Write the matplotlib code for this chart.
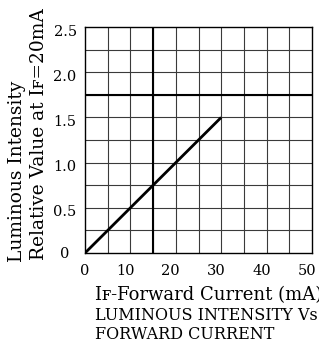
import numpy as np
import matplotlib
matplotlib.use("Agg")
import matplotlib.pyplot as plt
from matplotlib.transforms import ScaledTranslation

# data
forward_current = [0, 30]          # mA
relative_intensity = [0, 1.5]      # relative to IF=20mA

x_ticks = [0, 10, 20, 30, 40, 50]
y_ticks = [0, 0.5, 1.0, 1.5, 2.0, 2.5]
y_ticklabels = ["0", "0.5", "1.0", "1.5", "2.0", "2.5"]

fam = ["DejaVu Serif", "DejaVu Sans"]

fig = plt.figure(figsize=(3.19, 3.46), dpi=100)
ax = fig.add_axes([85/319, 93/346, 227/319, 226/346])

ax.set_xlim(0, 50)
ax.set_ylim(0, 2.5)

# grid every 5 mA / 0.25
for gx in np.arange(5, 50, 5):
    ax.axvline(gx, color="#3a3a3a", lw=0.8, zorder=1)
for gy in np.arange(0.25, 2.5, 0.25):
    ax.axhline(gy, color="#3a3a3a", lw=0.8, zorder=1)
# heavier reference lines
ax.axvline(15, color="black", lw=1.5, zorder=1)
ax.axhline(1.75, color="black", lw=1.5, zorder=1)

ax.plot(forward_current, relative_intensity, color="black", lw=2.0,
        solid_capstyle="butt", zorder=3)

ax.set_xticks(x_ticks)
ax.set_yticks(y_ticks)
ax.set_yticklabels(y_ticklabels)
ax.tick_params(axis="both", length=0, labelsize=10.5, colors="black")
ax.tick_params(axis="x", pad=8)
ax.tick_params(axis="y", pad=6)
for lab in ax.get_xticklabels() + ax.get_yticklabels():
    lab.set_family(fam)

# nudge the labels a little, as on the printed sheet
xl = ax.get_xticklabels()
for lab in xl[1:]:
    lab.set_transform(lab.get_transform() +
                      ScaledTranslation(-5/100, 0, fig.dpi_scale_trans))
yl = ax.get_yticklabels()
yl[0].set_transform(yl[0].get_transform() +
                    ScaledTranslation(-7/100, 0, fig.dpi_scale_trans))
for lab in yl[1:]:
    lab.set_transform(lab.get_transform() +
                      ScaledTranslation(0, -3/100, fig.dpi_scale_trans))

for sp in ax.spines.values():
    sp.set_color("black")
    sp.set_linewidth(1.0)

fig.text(17/319, 84/346, "Luminous Intensity", rotation=90, ha="center",
         va="bottom", fontsize=13.4, family=fam)
fig.text(39/319, 86/346, "Relative Value at I\ua730=20mA", rotation=90,
         ha="center", va="bottom", fontsize=13.4, family=fam)

fig.text(95/319, 1 - 300/346, "I\ua730-Forward Current (mA)", ha="left",
         va="baseline", fontsize=13, family=fam)
fig.text(95/319, 1 - 320/346, "LUMINOUS INTENSITY Vs", ha="left",
         va="baseline", fontsize=11.5, family=fam)
fig.text(95/319, 1 - 339/346, "FORWARD CURRENT", ha="left",
         va="baseline", fontsize=11.5, family=fam)

fig.savefig("out.png", dpi=100)
